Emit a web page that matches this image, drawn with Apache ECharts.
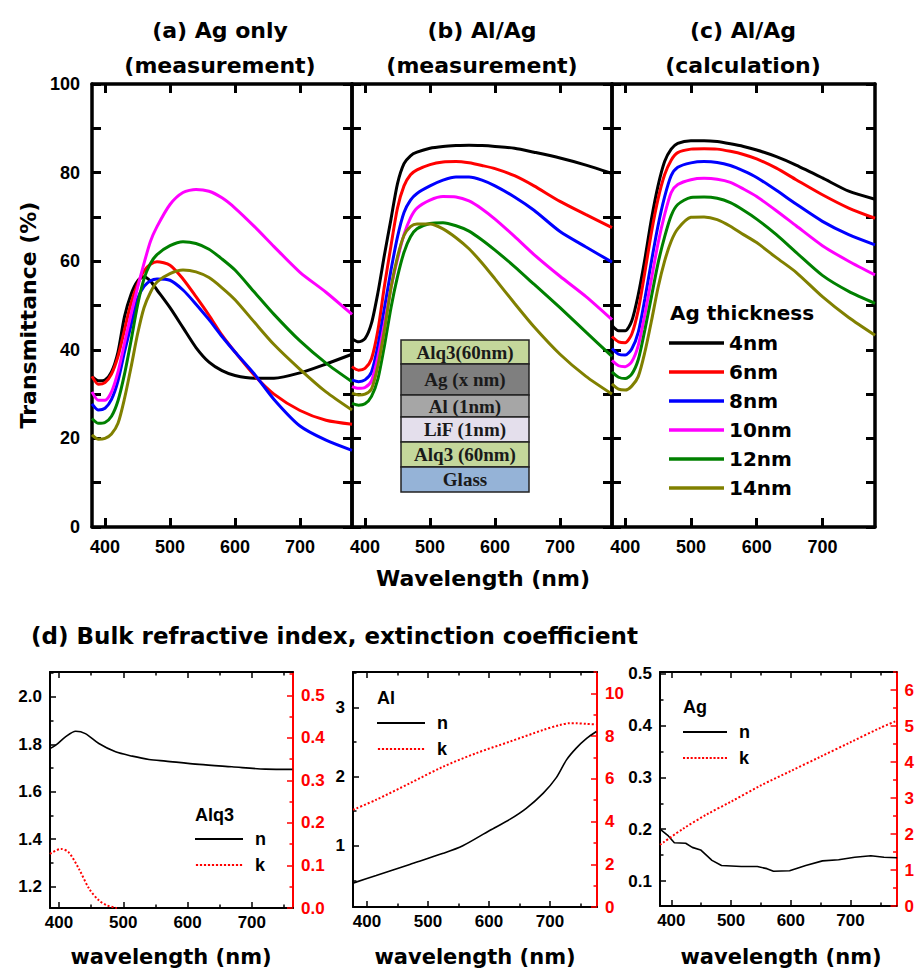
<!DOCTYPE html>
<html>
<head>
<meta charset="utf-8">
<script src="https://cdn.jsdelivr.net/npm/echarts@6/dist/echarts.min.js"></script>
<style>
html,body{margin:0;padding:0;background:#fff;}
#chart{width:917px;height:973px;}
</style>
</head>
<body>
<div id="chart"></div>
<script>
// ---------------- DATA ----------------
const wlTop = [380,390,400,410,420,430,440,450,460,470,480,500,520,540,560,580,600,630,660,700,740,780];
const thickness = ['4nm','6nm','8nm','10nm','12nm','14nm'];
const xTicksTop = [400,500,600,700];
const yTicksTop = [0,20,40,60,80,100];
const yMinorTop = [10,30,50,70,90];

// (a) Ag only (measurement)
const agOnly4  = [34.0,33.0,33.2,35.0,39.5,47.5,52.5,55.5,56.5,55.5,53.5,49.5,45.0,40.5,37.2,35.3,34.2,33.6,33.6,34.8,36.8,39.0];
const agOnly6  = [34.0,32.2,32.6,34.5,38.5,44.5,50.5,54.8,57.8,59.3,59.9,59.1,56.0,52.0,47.8,43.3,39.5,34.2,30.0,26.3,24.1,23.2];
const agOnly8  = [27.8,26.4,26.8,28.8,33.0,39.5,45.5,51.5,54.3,55.6,56.0,55.7,53.5,50.3,46.8,43.0,39.5,34.5,28.8,22.8,19.6,17.3];
const agOnly10 = [30.5,28.6,28.6,30.5,35.0,41.5,48.0,54.0,59.5,64.5,67.8,72.8,75.5,76.2,75.8,74.3,72.0,67.8,63.3,57.5,53.0,48.0];
const agOnly12 = [24.5,23.4,23.6,25.0,28.5,34.5,42.0,50.0,56.0,59.5,61.5,63.5,64.4,64.0,62.7,60.5,58.0,53.0,48.0,42.0,37.0,32.8];
const agOnly14 = [20.8,19.8,20.0,21.0,23.4,29.0,36.0,43.5,49.5,53.0,55.3,57.2,58.0,57.6,56.3,54.0,51.3,46.2,41.2,35.6,30.5,26.4];

// (b) Al/Ag (measurement)
const alAgMeas4  = [42.5,41.8,42.5,46.0,53.0,61.5,69.5,77.5,82.0,83.8,84.6,85.5,85.9,86.1,86.2,86.1,85.9,85.5,84.6,83.3,81.7,79.8];
const alAgMeas6  = [36.2,35.4,35.8,38.0,44.5,54.5,63.5,72.0,77.0,79.5,80.6,81.8,82.4,82.5,82.2,81.6,80.9,79.3,77.0,73.5,70.5,67.6];
const alAgMeas8  = [33.2,32.8,33.2,35.0,41.0,49.5,58.0,65.5,71.0,73.8,75.3,77.0,78.3,79.0,79.0,78.3,77.0,74.5,71.5,66.7,63.2,59.8];
const alAgMeas10 = [31.7,31.3,31.5,33.0,38.5,46.0,54.0,60.5,66.0,69.8,72.0,73.8,74.6,74.5,73.6,71.8,69.5,65.6,61.5,56.6,52.0,46.8];
const alAgMeas12 = [27.9,27.5,27.8,29.5,33.5,41.0,49.5,56.5,62.0,65.5,67.3,68.5,68.7,68.0,66.8,64.8,62.5,58.8,54.8,49.5,44.0,38.5];
const alAgMeas14 = [30.2,29.8,30.0,31.2,36.5,44.5,54.0,61.0,65.8,67.8,68.4,68.4,67.3,65.3,62.8,59.6,56.0,50.5,45.2,39.0,34.0,30.0];

// (c) Al/Ag (calculation)
const alAgCalc4  = [45.5,44.3,44.3,46.5,52.5,60.5,69.5,77.0,82.5,85.3,86.6,87.2,87.2,87.0,86.5,85.9,85.1,83.6,81.7,78.8,75.8,74.0];
const alAgCalc6  = [43.0,41.8,41.6,43.5,49.0,57.5,66.5,74.0,79.5,82.8,84.5,85.3,85.4,85.3,84.8,84.1,83.1,81.0,78.4,75.0,72.0,69.7];
const alAgCalc8  = [40.3,39.0,38.8,40.2,44.0,51.5,60.0,68.0,74.5,79.3,81.2,82.2,82.5,82.3,81.6,80.4,78.9,76.0,72.9,69.0,66.0,63.7];
const alAgCalc10 = [37.6,36.4,36.2,37.3,41.0,48.0,56.0,64.0,70.5,75.5,77.3,78.4,78.7,78.5,77.8,76.3,74.6,71.4,68.0,63.5,60.0,56.9];
const alAgCalc12 = [35.0,33.8,33.5,34.5,37.8,44.5,52.0,59.5,65.5,70.3,72.8,74.4,74.5,74.2,73.2,71.5,69.5,66.0,62.0,56.8,53.2,50.5];
const alAgCalc14 = [32.3,31.1,30.9,31.8,34.0,39.5,46.5,54.0,60.0,64.5,67.3,69.9,70.0,69.4,67.9,66.0,64.2,60.8,57.5,52.0,47.3,43.3];

// (d) bulk n, k
const alq3WlN = [386,395,410,426,441,462,488,514,540,566,618,669,721,763];
const alq3N   = [1.782,1.796,1.831,1.855,1.845,1.803,1.768,1.750,1.736,1.729,1.715,1.705,1.695,1.694];
const alq3WlK = [386,403,415,431,447,462,475,490];
const alq3K   = [0.127,0.139,0.131,0.092,0.045,0.018,0.006,0.0];

const alWlN = [377,415,470,525,557,601,634,661,689,710,727,743,760,776];
const alN   = [0.46,0.57,0.73,0.89,1.0,1.22,1.38,1.54,1.76,1.98,2.24,2.41,2.55,2.65];
const alWlK = [377,415,470,525,579,634,689,716,732,743,760,776];
const alK   = [4.55,5.02,5.79,6.57,7.2,7.74,8.29,8.52,8.6,8.6,8.57,8.55];

const agWlN = [381,395,405,424,435,449,468,484,517,544,560,571,598,625,653,680,707,734,756,778];
const agN   = [0.2,0.187,0.174,0.173,0.165,0.16,0.14,0.13,0.128,0.128,0.124,0.119,0.12,0.13,0.139,0.141,0.146,0.149,0.146,0.145];
const agWlK = [381,420,460,500,550,600,650,700,750,778];
const agK   = [1.7,2.15,2.55,2.9,3.35,3.75,4.15,4.55,4.95,5.15];

const xTicksBot = [400,500,600,700];
const xMinorBot = [450,550,650,750];

// ---------------- BUILD ----------------
const colors = ['#000000','#ff0000','#0000ff','#ff00ff','#008000','#808000'];
const topSets = [
  [agOnly4,agOnly6,agOnly8,agOnly10,agOnly12,agOnly14],
  [alAgMeas4,alAgMeas6,alAgMeas8,alAgMeas10,alAgMeas12,alAgMeas14],
  [alAgCalc4,alAgCalc6,alAgCalc8,alAgCalc10,alAgCalc12,alAgCalc14]
];
const zip = (xs, ys) => xs.map((x, i) => [x, ys[i]]);

const grids = [
  {left:92, top:84, width:260, height:443},
  {left:352, top:84, width:260, height:443},
  {left:612, top:84, width:263, height:443},
  {left:50, top:672, width:243, height:236},
  {left:353, top:672, width:244, height:235},
  {left:660, top:672, width:243, height:234}
];

const xAxes = [], yAxes = [];
function addAxis(list, o) {
  const base = {type:'value', gridIndex:o.grid, position:o.pos, min:o.min, max:o.max,
    splitLine:{show:false}, minorSplitLine:{show:false}, axisPointer:{show:false}};
  const idx = list.length;
  list.push(Object.assign({}, base, {
    axisLine:{show:true, onZero:false, lineStyle:{color:o.color, width:o.lw}},
    axisTick:{show:true, inside:true, length:o.majLen, customValues:o.majors, lineStyle:{color:o.color, width:o.tw}},
    axisLabel: o.label ? {show:true, customValues:o.majors, formatter:o.fmt, color:o.color, fontSize:o.fs,
      fontWeight:'bold', fontFamily:'Liberation Sans', margin:o.margin} : {show:false}
  }));
  if (o.minors) {
    list.push(Object.assign({}, base, {
      axisLine:{show:false, onZero:false},
      axisTick:{show:true, inside:true, length:o.minLen, customValues:o.minors, lineStyle:{color:o.color, width:o.tw}},
      axisLabel:{show:false}
    }));
  }
  return idx;
}

const series = [];
// top panels
for (let p = 0; p < 3; p++) {
  const xi = addAxis(xAxes, {grid:p, pos:'bottom', min:380, max:780, majors:xTicksTop, color:'#000', lw:3.5, tw:3, majLen:9,
    label:true, fmt:v=>String(v), fs:18, margin:11});
  addAxis(xAxes, {grid:p, pos:'top', min:380, max:780, majors:xTicksTop, color:'#000', lw:3.5, tw:3, majLen:9, label:false});
  const yi = addAxis(yAxes, {grid:p, pos:'left', min:0, max:100, majors:yTicksTop, minors:yMinorTop, color:'#000', lw:3.5, tw:3,
    majLen:9, minLen:9, label:p===0, fmt:v=>String(v), fs:18, margin:12});
  addAxis(yAxes, {grid:p, pos:'right', min:0, max:100, majors:yTicksTop, minors:yMinorTop, color:'#000', lw:3.5, tw:3,
    majLen:9, minLen:9, label:false});
  topSets[p].forEach((arr, i) => {
    series.push({type:'line', name:thickness[i], xAxisIndex:xi, yAxisIndex:yi, data:zip(wlTop, arr),
      symbol:'none', showSymbol:false, smooth:0.25, lineStyle:{color:colors[i], width:3}, itemStyle:{color:colors[i]},
      z:3});
  });
}

// bottom panels
const botCfg = [
  {grid:3, xmin:386, xmax:764, lmin:1.109, lmax:2.105, lMaj:[1.2,1.4,1.6,1.8,2.0], lMin:[1.3,1.5,1.7,1.9,2.1], lFmt:v=>v.toFixed(1),
   rmin:0, rmax:0.555, rMaj:[0,0.1,0.2,0.3,0.4,0.5], rMin:[0.05,0.15,0.25,0.35,0.45,0.55], rFmt:v=>v.toFixed(1),
   wlN:alq3WlN, n:alq3N, wlK:alq3WlK, k:alq3K, smoothN:true},
  {grid:4, xmin:377, xmax:777, lmin:0.115, lmax:3.51, lMaj:[1,2,3], lMin:[0.5,1.5,2.5,3.5], lFmt:v=>String(v),
   rmin:0, rmax:11, rMaj:[0,2,4,6,8,10], rMin:[1,3,5,7,9,11], rFmt:v=>String(v),
   wlN:alWlN, n:alN, wlK:alWlK, k:alK, smoothN:true},
  {grid:5, xmin:381, xmax:777, lmin:0.052, lmax:0.503, lMaj:[0.1,0.2,0.3,0.4,0.5], lMin:[0.15,0.25,0.35,0.45], lFmt:v=>v.toFixed(1),
   rmin:0, rmax:6.5, rMaj:[0,1,2,3,4,5,6], rMin:[0.5,1.5,2.5,3.5,4.5,5.5,6.5], rFmt:v=>String(v),
   wlN:agWlN, n:agN, wlK:agWlK, k:agK, smoothN:false}
];
botCfg.forEach(c => {
  const xi = addAxis(xAxes, {grid:c.grid, pos:'bottom', min:c.xmin, max:c.xmax, majors:xTicksBot, minors:xMinorBot, color:'#000',
    lw:2, tw:1.5, majLen:6, minLen:3.5, label:true, fmt:v=>String(v), fs:17, margin:6});
  addAxis(xAxes, {grid:c.grid, pos:'top', min:c.xmin, max:c.xmax, majors:xTicksBot, minors:xMinorBot, color:'#000',
    lw:2, tw:1.5, majLen:6, minLen:3.5, label:false});
  const yl = addAxis(yAxes, {grid:c.grid, pos:'left', min:c.lmin, max:c.lmax, majors:c.lMaj, minors:c.lMin, color:'#000',
    lw:2, tw:1.5, majLen:6, minLen:3.5, label:true, fmt:c.lFmt, fs:17, margin:8});
  const yr = addAxis(yAxes, {grid:c.grid, pos:'right', min:c.rmin, max:c.rmax, majors:c.rMaj, minors:c.rMin, color:'#ff0000',
    lw:2, tw:1.5, majLen:6, minLen:3.5, label:true, fmt:c.rFmt, fs:17, margin:8});
  series.push({type:'line', name:'n', xAxisIndex:xi, yAxisIndex:yl, data:zip(c.wlN, c.n), symbol:'none', showSymbol:false,
    smooth:c.smoothN ? 0.3 : false, lineStyle:{color:'#000', width:1.6}, itemStyle:{color:'#000'}});
  series.push({type:'line', name:'k', xAxisIndex:xi, yAxisIndex:yr, data:zip(c.wlK, c.k), symbol:'none', showSymbol:false,
    smooth:0.3, lineStyle:{color:'#ff0000', width:2, type:'dotted'}, itemStyle:{color:'#ff0000'}});
});

// texts
const bigFont = 'DejaVu Sans';
function txt(text, x, y, size, opts) {
  opts = opts || {};
  return {type:'text', x:x, y:y, rotation:opts.rot || 0, z:10,
    style:{text:text, fill:opts.color || '#000', fontSize:size, fontWeight:'bold', fontFamily:opts.family || bigFont,
      textAlign:opts.align || 'center', textVerticalAlign:'middle', align:opts.align || 'center', verticalAlign:'middle'}};
}
const graphics = [
  txt('(a) Ag only', 220, 30, 22), txt('(measurement)', 220, 65, 22),
  txt('(b) Al/Ag', 482, 30, 22), txt('(measurement)', 482, 65, 22),
  txt('(c) Al/Ag', 743, 30, 22), txt('(calculation)', 743, 65, 22),
  txt('Transmittance (%)', 28, 315, 22, {rot:Math.PI/2}),
  txt('Wavelength (nm)', 483, 578, 22),
  txt('(d) Bulk refractive index, extinction coefficient', 31, 636, 23, {align:'left'}),
  txt('wavelength (nm)', 171, 957, 21), txt('wavelength (nm)', 475, 957, 21), txt('wavelength (nm)', 781, 957, 21),
  txt('Ag thickness', 670, 313, 20, {align:'left'}),
  txt('Alq3', 195, 815, 18, {align:'left', family:'Liberation Sans'}),
  txt('Al', 377, 698, 18, {align:'left', family:'Liberation Sans'}),
  txt('Ag', 683, 707, 18, {align:'left', family:'Liberation Sans'})
];
// device structure inset
const layers = [
  ['Alq3(60nm)', 24, '#c4d79b'],
  ['Ag (x nm)', 31, '#7f7f7f'],
  ['Al (1nm)', 22, '#a6a6a6'],
  ['LiF (1nm)', 25, '#e4dfec'],
  ['Alq3 (60nm)', 25, '#c4d79b'],
  ['Glass', 25, '#95b3d7']
];
let ly = 340;
layers.forEach(l => {
  graphics.push({type:'rect', z:8, shape:{x:401, y:ly, width:128, height:l[1]}, style:{fill:l[2], stroke:'#222', lineWidth:1.5}});
  graphics.push({type:'text', z:9, x:465, y:ly + l[1]/2, style:{text:l[0], fill:'#1a1a1a', fontSize:19, fontWeight:'bold',
    fontFamily:'Liberation Serif', textAlign:'center', textVerticalAlign:'middle', align:'center', verticalAlign:'middle'}});
  ly += l[1];
});

// legend icons: solid bar and dotted bar
const dotPath = 'path://' + Array.from({length:12}, (_, i) => 'M' + (i*4) + ',0h2.2v2h-2.2z').join(' ');
const nkLegend = (left, top, w) => ({
  data:[{name:'n', icon:'rect', itemStyle:{color:'#000'}}, {name:'k', icon:dotPath, itemStyle:{color:'#ff0000'}}],
  orient:'vertical', left:left, top:top, itemWidth:w, itemHeight:2, itemGap:8, padding:0, selectedMode:false,
  textStyle:{fontSize:18, fontWeight:'bold', fontFamily:'Liberation Sans', color:'#000', lineHeight:18, padding:[0,0,0,7]}
});

const option = {
  animation:false,
  backgroundColor:'#ffffff',
  grid:grids,
  xAxis:xAxes,
  yAxis:yAxes,
  legend:[
    {data:thickness, icon:'rect', orient:'vertical', left:669, top:333, itemWidth:55, itemHeight:3.5, itemGap:9, padding:0, selectedMode:false,
     textStyle:{fontSize:20, fontWeight:'bold', fontFamily:bigFont, color:'#000', lineHeight:20}},
    nkLegend(195, 830, 48),
    nkLegend(377, 714, 48),
    nkLegend(683, 723, 44)
  ],
  graphic:graphics,
  series:series
};
const chart = echarts.init(document.getElementById('chart'), null, {renderer:'svg'});
chart.setOption(option);
</script>
</body>
</html>
